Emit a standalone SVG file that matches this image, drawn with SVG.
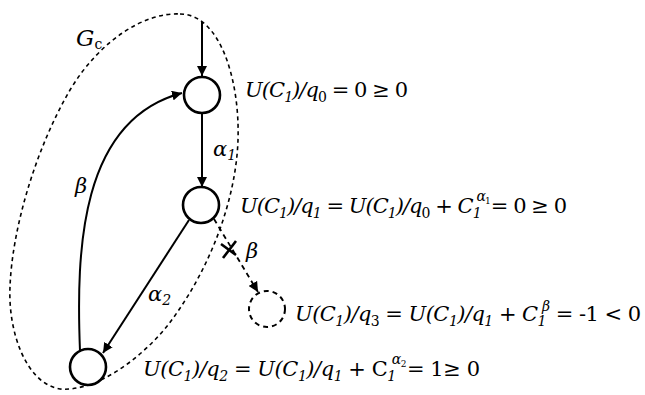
<svg xmlns="http://www.w3.org/2000/svg" width="645" height="395" viewBox="0 0 645 395">
<style>
.t{font-family:"DejaVu Serif","Liberation Serif","Times New Roman",serif;font-size:21px;fill:#000}
.i{font-style:italic}
.s{font-size:14px}
.node{fill:#fff;stroke:#000;stroke-width:2.6}
.dnode{fill:none;stroke:#000;stroke-width:2;stroke-dasharray:5 4}
.edge{fill:none;stroke:#000;stroke-width:2}
.dedge{fill:none;stroke:#000;stroke-width:1.8;stroke-dasharray:5 4}
.region{fill:none;stroke:#000;stroke-width:1.6;stroke-dasharray:4 3.5}
</style>
<defs>
<marker id="ah" viewBox="0 0 10 10" refX="10" refY="5" markerWidth="10" markerHeight="10" markerUnits="userSpaceOnUse" orient="auto">
<path d="M0,0 L10,5 L0,10 Z" fill="#000"/>
</marker>
</defs>
<g id="region-Gc">
<path class="region" d="M180 14 C220 14,240 80,238 140 C236 200,210 270,168 325 C140 360,95 392,60 389 C25 383,8 330,10 287 C12 230,35 150,70 90 C100 40,145 12,180 14 Z"/>
<text class="t" x="76" y="46" style="font-size:23px"><tspan class="i">G</tspan><tspan class="s" dy="3">c</tspan></text>
</g>
<g id="connectors">
<line class="edge" x1="202" y1="22" x2="202" y2="76" marker-end="url(#ah)"/>
<line class="edge" x1="202" y1="113" x2="202" y2="187" marker-end="url(#ah)"/>
<path class="edge" d="M80 351 C76 250,80 120,182 93" marker-end="url(#ah)"/>
<line class="edge" x1="189" y1="220" x2="103" y2="353" marker-end="url(#ah)"/>
<line class="dedge" x1="214" y1="219" x2="258" y2="292" marker-end="url(#ah)"/>
<g stroke="#000" stroke-width="2.6" fill="none">
<line x1="223" y1="258" x2="236" y2="241"/>
<line x1="221" y1="244" x2="236" y2="255"/>
</g>
<text class="t i" x="213" y="156">α<tspan class="s" dy="4">1</tspan></text>
<text class="t i" x="75" y="193">β</text>
<text class="t i" x="148" y="301">α<tspan class="s" dy="4">2</tspan></text>
<text class="t i" x="246" y="258">β</text>
</g>
<g id="q0">
<circle class="node" cx="202" cy="95" r="18"/>
<text class="t" x="245" y="97" textLength="163" lengthAdjust="spacing"><tspan class="i">U(C</tspan><tspan class="s i" dy="5">1</tspan><tspan class="i" dy="-5">)/q</tspan><tspan class="s" dy="5">0</tspan><tspan dy="-5"> = 0 ≥ 0</tspan></text>
</g>
<g id="q1">
<circle class="node" cx="201" cy="205" r="18"/>
<text class="t" x="240" y="213" textLength="327" lengthAdjust="spacing"><tspan class="i">U(C</tspan><tspan class="s i" dy="5">1</tspan><tspan class="i" dy="-5">)/q</tspan><tspan class="s i" dy="5">1</tspan><tspan dy="-5"> = </tspan><tspan class="i">U(C</tspan><tspan class="s i" dy="5">1</tspan><tspan class="i" dy="-5">)/q</tspan><tspan class="s" dy="5">0</tspan><tspan dy="-5"> + </tspan><tspan class="i">C</tspan><tspan class="s i" dy="5">1</tspan><tspan class="s i" dx="-4" dy="-17">α</tspan><tspan dy="3" style="font-size:9px">1</tspan><tspan dy="9" dx="1">= 0 ≥ 0</tspan></text>
</g>
<g id="q2">
<circle class="node" cx="88" cy="367" r="18"/>
<text class="t" x="143" y="376" textLength="337" lengthAdjust="spacing"><tspan class="i">U(C</tspan><tspan class="s i" dy="5">1</tspan><tspan class="i" dy="-5">)/q</tspan><tspan class="s i" dy="5">2</tspan><tspan dy="-5"> = </tspan><tspan class="i">U(C</tspan><tspan class="s i" dy="5">1</tspan><tspan class="i" dy="-5">)/q</tspan><tspan class="s i" dy="5">1</tspan><tspan dy="-5"> + C</tspan><tspan class="s i" dy="5">1</tspan><tspan class="s i" dx="-4" dy="-17">α</tspan><tspan dy="3" style="font-size:9px">2</tspan><tspan dy="9" dx="1">= 1≥ 0</tspan></text>
</g>
<g id="q3">
<circle class="dnode" cx="267" cy="309" r="18"/>
<text class="t" x="295" y="321" textLength="346" lengthAdjust="spacing"><tspan class="i">U(C</tspan><tspan class="s i" dy="5">1</tspan><tspan class="i" dy="-5">)/q</tspan><tspan class="s" dy="5">3</tspan><tspan dy="-5"> = </tspan><tspan class="i">U(C</tspan><tspan class="s i" dy="5">1</tspan><tspan class="i" dy="-5">)/q</tspan><tspan class="s i" dy="5">1</tspan><tspan dy="-5"> + </tspan><tspan class="i">C</tspan><tspan class="s i" dy="5">1</tspan><tspan class="s i" dx="-4" dy="-15">β</tspan><tspan dy="10"> = -1 &lt; 0</tspan></text>
</g>
</svg>
